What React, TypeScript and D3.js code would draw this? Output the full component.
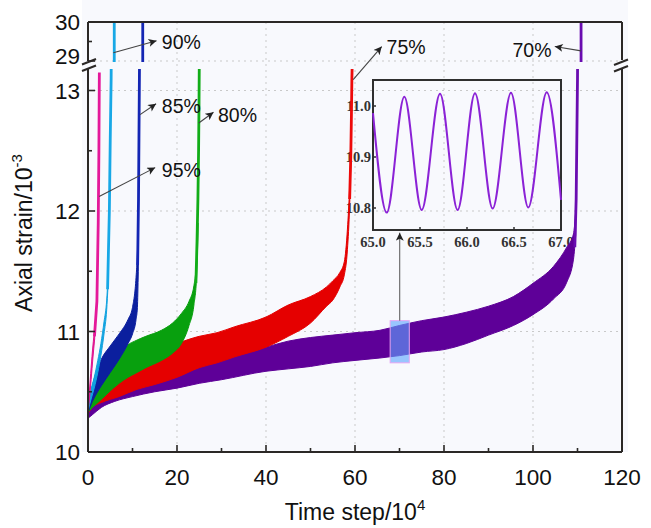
import React from 'react';
import * as d3 from 'd3';

// ---------- axes ----------
const xDomain = [0, 120];
const lowDomain = [10, 13];
const upDomain = [29, 30];
const xTicks = [0, 20, 40, 60, 80, 100, 120];
const xMinor = [10, 30, 50, 70, 90, 110];
const lowTicks = [10, 11, 12, 13];
const lowMinor = [10.5, 11.5, 12.5];
const upTicks = [29, 30];
const upMinor = [29.5];
const xGrid = [20, 40, 60, 80, 100];
const lowGrid = [11, 12, 13];
const upGrid = [29];

// ---------- series (band envelopes + failure spikes) ----------
const s70X = [0, 1, 3, 6, 10, 15, 20, 25, 30, 40, 45, 50, 55, 60, 65.6, 70, 75, 80, 85, 90, 95.6, 100, 104.6, 107.6, 109.1, 109.6];
const s70Hi = [10.36, 10.4, 10.44, 10.48, 10.54, 10.6, 10.66, 10.72, 10.77, 10.87, 10.92, 10.95, 10.97, 10.99, 11.01, 11.05, 11.09, 11.12, 11.16, 11.21, 11.29, 11.4, 11.54, 11.7, 11.81, 12.0];
const s70Lo = [10.28, 10.31, 10.37, 10.42, 10.46, 10.5, 10.53, 10.57, 10.6, 10.67, 10.69, 10.71, 10.74, 10.76, 10.78, 10.8, 10.83, 10.85, 10.9, 10.97, 11.05, 11.14, 11.27, 11.41, 11.6, 11.8];
const s70SpikeX = [109.4, 109.7, 109.85, 110.0, 110.05];
const s70SpikeY = [11.7, 12.1, 12.6, 13.1, 13.4];
const s70TopX = [110.8, 110.8];

const s75X = [0, 1, 3, 7, 11, 15, 20, 25, 29, 33, 40, 45, 50, 53.6, 55, 56.6, 57.6, 58.3, 58.8, 59.1];
const s75Hi = [10.38, 10.45, 10.53, 10.65, 10.74, 10.82, 10.9, 10.96, 10.99, 11.04, 11.12, 11.22, 11.29, 11.37, 11.42, 11.49, 11.58, 11.85, 12.2, 12.5];
const s75Lo = [10.32, 10.37, 10.41, 10.46, 10.52, 10.56, 10.62, 10.7, 10.74, 10.79, 10.87, 10.96, 11.07, 11.21, 11.26, 11.37, 11.47, 11.68, 12.05, 12.45];
const s75SpikeX = [58.8, 59.05, 59.2, 59.3, 59.35];
const s75SpikeY = [12.1, 12.45, 12.8, 13.1, 13.18];

const s80X = [0, 1, 2.5, 4.5, 7, 9, 10.5, 13, 16.5, 19, 21, 22.7, 23.8, 24.4, 24.7];
const s80Hi = [10.38, 10.42, 10.52, 10.66, 10.8, 10.89, 10.92, 10.96, 11.01, 11.07, 11.15, 11.25, 11.38, 11.6, 11.9];
const s80Lo = [10.33, 10.37, 10.42, 10.49, 10.57, 10.62, 10.65, 10.7, 10.76, 10.82, 10.9, 11.05, 11.22, 11.45, 11.8];
const s80SpikeX = [24.25, 24.5, 24.7, 24.85, 24.95, 25.0];
const s80SpikeY = [11.4, 11.75, 12.1, 12.5, 12.9, 13.18];

const s85X = [0, 1, 2, 3, 5, 7, 9, 10, 10.8, 11.1, 11.3];
const s85Hi = [10.37, 10.55, 10.68, 10.77, 10.88, 10.98, 11.1, 11.2, 11.45, 11.65, 11.9];
const s85Lo = [10.33, 10.42, 10.49, 10.55, 10.66, 10.77, 10.9, 10.98, 11.1, 11.2, 11.5];
const s85SpikeX = [11.15, 11.35, 11.45, 11.55, 11.6];
const s85SpikeY = [11.55, 12.1, 12.6, 13.1, 13.4];
const s85TopX = [12.3, 12.3];

const s90X = [0, 0.7, 1.4, 2.2, 2.9, 3.6, 4.2, 4.5];
const s90Hi = [10.38, 10.52, 10.62, 10.76, 10.9, 11.08, 11.26, 11.45];
const s90Lo = [10.34, 10.44, 10.53, 10.66, 10.8, 10.98, 11.18, 11.38];
const s90SpikeX = [4.4, 4.8, 5.0, 5.2, 5.25];
const s90SpikeY = [11.35, 12.0, 12.6, 13.1, 13.4];
const s90TopX = [5.9, 5.9];

const s95X = [0, 0.3, 0.7, 1.1, 1.5];
const s95Hi = [10.38, 10.5, 10.7, 10.88, 11.02];
const s95Lo = [10.34, 10.43, 10.6, 10.78, 10.94];
const s95SpikeX = [1.45, 2.0, 2.3, 2.45, 2.55];
const s95SpikeY = [10.96, 11.25, 11.9, 12.5, 13.15];

const topY = [28.8, 30.2];

// ---------- annotations ----------
const annLabels = ['95%', '90%', '85%', '80%', '75%', '70%'];
const annTextX = [16.6, 16.6, 16.6, 29.2, 67.1, 95.4];
const annTextY = [12.28, 29.31, 12.81, 12.74, 29.18, 29.1];
const annFromX = [2.5, 5.7, 11.7, 24.9, 59.6, 110.8];
const annFromY = [12.12, 29.21, 12.8, 12.73, 13.09, 29.26];
const annToX = [15.1, 15.4, 15.3, 28.2, 66.0, 104.9];
const annToY = [12.36, 29.52, 12.89, 12.82, 29.37, 29.37];

// highlighted window + arrow to inset
const boxX = [67.9, 72.2];
const boxY = [10.74, 11.09];
const boxArrowX = [70.05, 70.05];
const boxArrowY = [11.09, 11.82];

// ---------- inset ----------
const insetXDomain = [65, 67];
const insetXTicks = [65.0, 65.5, 66.0, 66.5, 67.0];
const insetYTicks = [10.8, 10.9, 11.0];
const insetX = [65.0, 65.146, 65.333, 65.518, 65.713, 65.9, 66.085, 66.273, 66.468, 66.652, 66.848, 67.0];
const insetY = [10.986, 10.791, 11.018, 10.796, 11.024, 10.796, 11.025, 10.799, 11.026, 10.801, 11.027, 10.816];

const SANS = 'Liberation Sans, Arial, Helvetica, sans-serif';
const SERIF = 'Liberation Serif, Times New Roman, serif';
const AX = '#2b2826';

export default function App() {
  const X0 = 88, X1 = 622;
  const x = d3.scaleLinear().domain(xDomain).range([X0, X1]);
  const yLow = d3.scaleLinear().domain(lowDomain).range([452, 90.5]);
  const yUp = d3.scaleLinear().domain(upDomain).range([61, 22]);
  const yAny = (v: number) => (v >= 20 ? yUp(v) : yLow(v));

  const series = [
    { x: s70X, hi: s70Hi, lo: s70Lo, sx: s70SpikeX, sy: s70SpikeY, tx: s70TopX, fill: '#5e0098', line: '#6a0cb0' },
    { x: s75X, hi: s75Hi, lo: s75Lo, sx: s75SpikeX, sy: s75SpikeY, tx: null, fill: '#e50000', line: '#ee0a0a' },
    { x: s80X, hi: s80Hi, lo: s80Lo, sx: s80SpikeX, sy: s80SpikeY, tx: null, fill: '#08a00e', line: '#12ad18' },
    { x: s85X, hi: s85Hi, lo: s85Lo, sx: s85SpikeX, sy: s85SpikeY, tx: s85TopX, fill: '#0b1f9e', line: '#1426b4' },
    { x: s90X, hi: s90Hi, lo: s90Lo, sx: s90SpikeX, sy: s90SpikeY, tx: s90TopX, fill: '#12a3e0', line: '#18a8e6' },
    { x: s95X, hi: s95Hi, lo: s95Lo, sx: s95SpikeX, sy: s95SpikeY, tx: null, fill: '#e0148f', line: '#e4189a' },
  ];

  const bandPath = (s: any) =>
    d3
      .area<number>()
      .x((_, i) => x(s.x[i]))
      .y0((_, i) => yLow(s.lo[i]))
      .y1((_, i) => yLow(s.hi[i]))
      .curve(d3.curveMonotoneX)(s.x) || '';
  const spikePath = (s: any) =>
    d3
      .line<number>()
      .x((_, i) => x(s.sx[i]))
      .y((_, i) => yLow(s.sy[i]))(s.sx) || '';
  const topPath = (s: any) =>
    d3
      .line<number>()
      .x((_, i) => x(s.tx[i]))
      .y((_, i) => yUp(topY[i]))(s.tx) || '';

  // inset
  const IL = 373, IR = 561, IT = 80, IB = 230;
  const ix = d3.scaleLinear().domain(insetXDomain).range([IL, IR]);
  const iy = d3.scaleLinear().domain([10.8, 11.0]).range([208, 106]);
  const insetPath =
    d3
      .line<number>()
      .x((_, i) => ix(insetX[i]))
      .y((_, i) => iy(insetY[i]))
      .curve(d3.curveMonotoneX)(insetX) || '';

  const LOW_TOP = 69, BOTTOM = 452, UP_TOP = 22, UP_BOT = 62;

  return (
    <svg width={651} height={528} style={{ position: 'absolute', left: 0, top: 0, background: '#fff' }}>
      <defs>
        <clipPath id="clipLow">
          <rect x={X0} y={LOW_TOP} width={X1 - X0} height={BOTTOM - LOW_TOP} />
        </clipPath>
        <clipPath id="clipUp">
          <rect x={X0} y={UP_TOP} width={X1 - X0} height={UP_BOT - UP_TOP} />
        </clipPath>
        <marker id="ah" viewBox="0 0 10 10" refX={10} refY={5} markerWidth={11} markerHeight={8}
          markerUnits="userSpaceOnUse" orient="auto">
          <path d="M0,0 L10,5 L0,10 L2.5,5 z" fill="#222" />
        </marker>
      </defs>

      <rect x={82} y={0} width={546} height={BOTTOM} fill="#f8f9fd" />

      {/* grid */}
      <g stroke="#c9c9c9" strokeWidth={1} strokeDasharray="2,4">
        {xGrid.map((v) => (
          <line key={'gx' + v} x1={x(v)} x2={x(v)} y1={UP_TOP} y2={BOTTOM} />
        ))}
        {lowGrid.map((v) => (
          <line key={'gl' + v} x1={X0} x2={X1} y1={yLow(v)} y2={yLow(v)} />
        ))}
        {upGrid.map((v) => (
          <line key={'gu' + v} x1={X0} x2={X1} y1={yUp(v)} y2={yUp(v)} />
        ))}
      </g>

      {/* inset */}
      <g>
        <rect x={IL} y={IT} width={IR - IL} height={IB - IT} fill="none" stroke="#2f2f2f" strokeWidth={2} />
        <path d={insetPath} fill="none" stroke="#8b22d6" strokeWidth={2} />
        {insetXTicks.map((v) => (
          <g key={'ixt' + v}>
            <line x1={ix(v)} x2={ix(v)} y1={IB} y2={IB - 3} stroke="#2f2f2f" strokeWidth={1.5} />
            <text x={ix(v)} y={247} textAnchor="middle" fontFamily={SERIF} fontWeight="bold" fontSize={14.5} fill="#333">
              {d3.format('.1f')(v)}
            </text>
          </g>
        ))}
        {insetYTicks.map((v) => (
          <g key={'iyt' + v}>
            <line x1={IL} x2={IL + 3} y1={iy(v)} y2={iy(v)} stroke="#2f2f2f" strokeWidth={1.5} />
            <text x={371} y={iy(v)} dy="0.35em" textAnchor="end" fontFamily={SERIF} fontWeight="bold" fontSize={14.5} fill="#333">
              {d3.format('.1f')(v)}
            </text>
          </g>
        ))}
      </g>

      {/* series */}
      <g clipPath="url(#clipLow)">
        {series.map((s, k) => (
          <g key={'s' + k}>
            <path d={bandPath(s)} fill={s.fill} stroke={s.fill} strokeWidth={1} />
            <path d={spikePath(s)} fill="none" stroke={s.line} strokeWidth={2.8} />
          </g>
        ))}
      </g>
      <g clipPath="url(#clipUp)">
        {series.filter((s) => s.tx).map((s, k) => (
          <path key={'t' + k} d={topPath(s)} fill="none" stroke={s.line} strokeWidth={2.8} />
        ))}
      </g>

      {/* highlighted window */}
      <rect x={x(boxX[0])} y={yLow(boxY[1])} width={x(boxX[1]) - x(boxX[0])} height={yLow(boxY[0]) - yLow(boxY[1])}
        fill="rgba(95,165,255,0.62)" stroke="#e6a6f2" strokeWidth={1} />
      <line x1={x(boxArrowX[0])} y1={yLow(boxArrowY[0])} x2={x(boxArrowX[1])} y2={yLow(boxArrowY[1])}
        stroke="#555" strokeWidth={1} markerEnd="url(#ah)" />

      {/* frame */}
      <g stroke={AX} strokeWidth={2} fill="none">
        <line x1={X0} x2={X1} y1={UP_TOP} y2={UP_TOP} />
        <line x1={X0} x2={X1} y1={BOTTOM} y2={BOTTOM} />
        <line x1={X0} x2={X0} y1={UP_TOP} y2={61} />
        <line x1={X0} x2={X0} y1={69} y2={BOTTOM} />
        <line x1={X1} x2={X1} y1={UP_TOP} y2={60} />
        <line x1={X1} x2={X1} y1={68} y2={BOTTOM} />
        <line x1={82} y1={64.5} x2={96} y2={59} />
        <line x1={82} y1={71} x2={96} y2={65.5} />
        <line x1={614} y1={65} x2={628} y2={59.5} />
        <line x1={614} y1={71.5} x2={628} y2={66} />
      </g>

      {/* ticks */}
      <g stroke={AX} strokeWidth={1.6}>
        {xTicks.map((v) => (
          <line key={'xt' + v} x1={x(v)} x2={x(v)} y1={BOTTOM} y2={BOTTOM - 7} />
        ))}
        {xMinor.map((v) => (
          <line key={'xm' + v} x1={x(v)} x2={x(v)} y1={BOTTOM} y2={BOTTOM - 4} />
        ))}
        {lowTicks.map((v) => (
          <line key={'lt' + v} x1={X0} x2={X0 + 7} y1={yLow(v)} y2={yLow(v)} />
        ))}
        {lowMinor.map((v) => (
          <line key={'lm' + v} x1={X0} x2={X0 + 4} y1={yLow(v)} y2={yLow(v)} />
        ))}
        {upTicks.map((v) => (
          <line key={'ut' + v} x1={X0} x2={X0 + 7} y1={yUp(v)} y2={yUp(v)} />
        ))}
        {upMinor.map((v) => (
          <line key={'um' + v} x1={X0} x2={X0 + 4} y1={yUp(v)} y2={yUp(v)} />
        ))}
      </g>

      {/* tick labels */}
      <g fontFamily={SANS} fontSize={22.5} fill="#111">
        {xTicks.map((v) => (
          <text key={'xl' + v} x={x(v)} y={485} textAnchor="middle">{v}</text>
        ))}
        {lowTicks.map((v) => (
          <text key={'ll' + v} x={80} y={yLow(v)} dy="0.36em" textAnchor="end">{v}</text>
        ))}
        {upTicks.map((v) => (
          <text key={'ul' + v} x={80} y={yUp(v) - (v === 29 ? 5 : 0)} dy="0.36em" textAnchor="end">{v}</text>
        ))}
      </g>

      {/* axis titles */}
      <text x={355} y={520} textAnchor="middle" fontFamily={SANS} fontSize={23} fill="#111">
        Time step/10<tspan fontSize={15} dy={-10}>4</tspan>
      </text>
      <text transform="translate(32,233) rotate(-90)" textAnchor="middle" fontFamily={SANS} fontSize={23} fill="#111">
        Axial strain/10<tspan fontSize={15} dy={-10}>-3</tspan>
      </text>

      {/* annotations */}
      <g>
        {annLabels.map((lab, i) => (
          <g key={'a' + i}>
            <line x1={x(annFromX[i])} y1={yAny(annFromY[i])} x2={x(annToX[i])} y2={yAny(annToY[i])}
              stroke="#444" strokeWidth={1.1} markerEnd="url(#ah)" />
            <text x={x(annTextX[i])} y={yAny(annTextY[i])} fontFamily={SANS} fontSize={19.5} fill="#111">{lab}</text>
          </g>
        ))}
      </g>
    </svg>
  );
}
